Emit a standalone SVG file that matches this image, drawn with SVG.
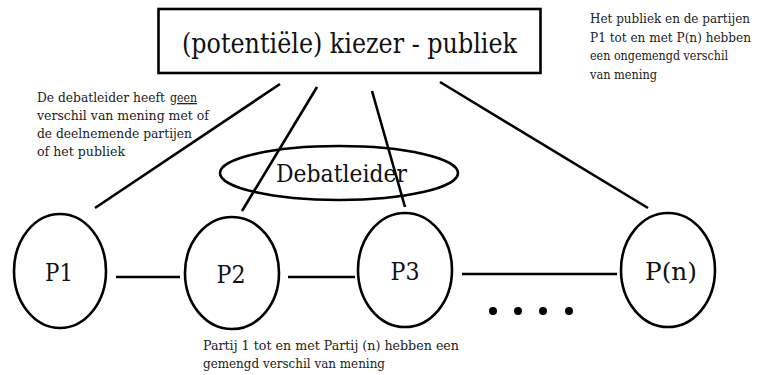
<svg xmlns="http://www.w3.org/2000/svg" width="757" height="375" viewBox="0 0 757 375">
<style>
.s{fill:none;stroke:#000;stroke-width:2.6}
.c{stroke:#000;stroke-width:2.6;fill:none}
.big{font-family:'DejaVu Serif',serif;fill:#111;text-anchor:middle}
.sm{font-family:'DejaVu Serif',serif;font-size:13px;fill:#222}
.rt{font-size:12.3px}
</style>
<rect width="757" height="375" fill="#fff"/>
<g id="connectors">
<line class="c" x1="280" y1="84" x2="95" y2="208"/>
<line class="c" x1="317" y1="87" x2="242" y2="211"/>
<line class="c" x1="372" y1="91" x2="405" y2="207"/>
<line class="c" x1="440" y1="82" x2="648" y2="208"/>
<line class="c" x1="116" y1="277" x2="180" y2="277"/>
<line class="c" x1="288" y1="277" x2="355" y2="277"/>
<line class="c" x1="462" y1="274" x2="617" y2="274"/>
</g>
<g id="publiek">
<rect class="s" x="158.5" y="9" width="382" height="64" stroke-width="3"/>
<text class="big" x="349.5" y="53" font-size="27" textLength="335" lengthAdjust="spacingAndGlyphs">(potentiële) kiezer - publiek</text>
</g>
<g id="debatleider">
<ellipse class="s" cx="339" cy="173" rx="119" ry="27"/>
<text class="big" x="341.5" y="182" font-size="25" textLength="131" lengthAdjust="spacingAndGlyphs">Debatleider</text>
</g>
<g id="p1">
<ellipse class="s" cx="60" cy="271" rx="46" ry="57"/>
<text class="big" x="59" y="281" font-size="25" textLength="28" lengthAdjust="spacingAndGlyphs">P1</text>
</g>
<g id="p2">
<ellipse class="s" cx="232" cy="273" rx="47" ry="56"/>
<text class="big" x="231" y="283" font-size="25" textLength="29" lengthAdjust="spacingAndGlyphs">P2</text>
</g>
<g id="p3">
<ellipse class="s" cx="405" cy="270" rx="47" ry="57"/>
<text class="big" x="405" y="280" font-size="25" textLength="29" lengthAdjust="spacingAndGlyphs">P3</text>
</g>
<g id="pn">
<ellipse class="s" cx="668" cy="270" rx="47" ry="57"/>
<text class="big" x="671" y="280" font-size="25" textLength="52" lengthAdjust="spacingAndGlyphs">P(n)</text>
</g>
<g id="dots" fill="#000">
<circle cx="493" cy="311" r="4"/>
<circle cx="518" cy="311" r="4"/>
<circle cx="543" cy="311" r="4"/>
<circle cx="569" cy="311" r="4"/>
</g>
<g id="note-left">
<text class="sm" x="37" y="102" textLength="128" lengthAdjust="spacingAndGlyphs">De debatleider heeft</text>
<text class="sm" x="170" y="102" textLength="27" lengthAdjust="spacingAndGlyphs" text-decoration="underline">geen</text>
<text class="sm" x="37" y="120" textLength="172" lengthAdjust="spacingAndGlyphs">verschil van mening met of</text>
<text class="sm" x="37" y="138" textLength="155" lengthAdjust="spacingAndGlyphs">de deelnemende partijen</text>
<text class="sm" x="37" y="156" textLength="88" lengthAdjust="spacingAndGlyphs">of het publiek</text>
</g>
<g id="note-right">
<text class="sm rt" x="590" y="23" textLength="160" lengthAdjust="spacingAndGlyphs">Het publiek en de partijen</text>
<text class="sm rt" x="590" y="41.5" textLength="161" lengthAdjust="spacingAndGlyphs">P1 tot en met P(n) hebben</text>
<text class="sm rt" x="590" y="60" textLength="138" lengthAdjust="spacingAndGlyphs">een ongemengd verschil</text>
<text class="sm rt" x="590" y="78.5" textLength="67" lengthAdjust="spacingAndGlyphs">van mening</text>
</g>
<g id="note-bottom">
<text class="sm" x="203" y="350" textLength="256" lengthAdjust="spacingAndGlyphs">Partij 1 tot en met Partij (n) hebben een</text>
<text class="sm" x="203" y="368" textLength="182" lengthAdjust="spacingAndGlyphs">gemengd verschil van mening</text>
</g>
</svg>
